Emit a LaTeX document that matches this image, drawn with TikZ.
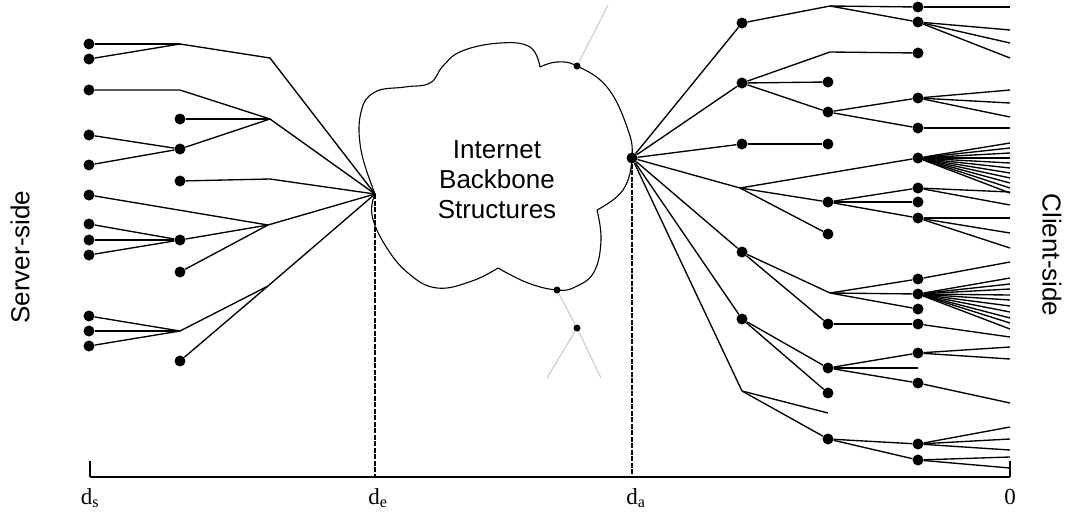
\documentclass[tikz,border=0pt]{standalone}
\usepackage{fontspec}
\setmainfont{Liberation Sans}
\newfontfamily\axisfont{Liberation Serif}
\usetikzlibrary{shapes}

\tikzstyle{dot} = [circle, fill, inner sep=0pt, minimum size=11pt]
\tikzstyle{smalldot} = [circle, fill, inner sep=0pt, minimum size=7pt]
\tikzstyle{link} = [line width=1.35pt]
\tikzstyle{greylink} = [gray!35, line width=1.3pt]
\tikzstyle{level} = [dash pattern=on 5pt off 1.5pt, line width=1.1pt]
\tikzstyle{side} = [font=\fontsize{26}{30}\selectfont]
\tikzstyle{tick} = [font=\axisfont\fontsize{23}{25}\selectfont, anchor=base]

% fan of lines from a node to the right border
\newcommand{\fanout}[2]{\foreach \y [count=\i] in {#2} {\coordinate (#1-\i) at (1010,\y); \draw[link] (#1) -- (#1-\i);}}

\begin{document}
\begin{tikzpicture}[x=1pt, y=-1pt]
\useasboundingbox (0,0) rectangle (1079,512);

% axis
\coordinate (xs) at (90,477);
\coordinate (xe) at (375,477);
\coordinate (xa) at (632,477);
\coordinate (xo) at (1010,477);
\coordinate (ts) at (90,461);
\coordinate (to) at (1010,461);
\draw[line width=1.4pt] (xs) -- (xo);
\draw[line width=1.4pt] (ts) -- (xs);
\draw[line width=1.4pt] (to) -- (xo);
\node[tick] at (90,504) {d\textsubscript{s}};
\node[tick] at (378,504) {d\textsubscript{e}};
\node[tick] at (636,504) {d\textsubscript{a}};
\node[tick] at (1010,504) {0};

% cloud
\draw[line width=1.1pt] plot[smooth, tension=0.7] coordinates {(375,194) (361,150) (361,112) (375,92) (405,87) (430,83) (443,66) (462,51) (500,43) (530,47) (540,67)};
\draw[line width=1.1pt] plot[smooth, tension=0.7] coordinates {(540,67) (557,62) (577,66) (607,87) (627,127) (632,157) (623,190) (597,210)};
\draw[line width=1.1pt] plot[smooth, tension=0.7] coordinates {(597,210) (601,240) (594,272) (575,287) (557,290) (528,283) (498,268)};
\draw[line width=1.1pt] plot[smooth, tension=0.7] coordinates {(498,268) (472,281) (437,288) (408,273) (385,245) (372,215) (375,194)};
\node[side, align=center] (net) at (497,180) {Internet\\Backbone\\Structures};

\coordinate (srv) at (20,257);
\coordinate (cli) at (1052,255);
\node[side, rotate=90] (server) at (srv) {Server-side};
\node[side, rotate=-90] (client) at (cli) {Client-side};

% other links leaving the backbone
\node[smalldot] (g1) at (577,66) {};
\node[smalldot] (g2) at (557,290) {};
\node[smalldot] (g3) at (577,328) {};
\coordinate (h1) at (608,5);
\coordinate (h2) at (547,378);
\coordinate (h3) at (601,378);
\draw[greylink] (g1) -- (h1);
\draw[greylink] (g2) -- (g3);
\draw[greylink] (g3) -- (h2);
\draw[greylink] (g3) -- (h3);

% server side
\coordinate (de) at (375,194);
\draw[level] (de) -- (xe);

\node[dot] (sa) at (89,44) {};
\node[dot] (sb) at (89,59) {};
\node[dot] (sc) at (89,90) {};
\node[dot] (sd) at (89,135) {};
\node[dot] (se) at (89,165) {};
\node[dot] (sf) at (89,195) {};
\node[dot] (sg) at (89,224) {};
\node[dot] (sh) at (89,240) {};
\node[dot] (si) at (89,255) {};
\node[dot] (sj) at (89,316) {};
\node[dot] (sk) at (89,331) {};
\node[dot] (sl) at (89,346) {};
\node[dot] (ma) at (180,119) {};
\node[dot] (mb) at (180,149) {};
\node[dot] (mc) at (180,181) {};
\node[dot] (md) at (180,240) {};
\node[dot] (me) at (180,272) {};
\node[dot] (mf) at (180,361) {};
\coordinate (ja) at (180,44);
\coordinate (jb) at (180,90);
\coordinate (jc) at (180,331);
\coordinate (ka) at (270,58);
\coordinate (kb) at (270,119);
\coordinate (kc) at (270,179);
\coordinate (kd) at (268,225);
\coordinate (ke) at (268,286);

\draw[link] (sa) -- (ja);
\draw[link] (sb) -- (ja);
\draw[link] (ja) -- (ka) -- (de);
\draw[link] (sc) -- (jb) -- (kb);
\draw[link] (ma) -- (kb);
\draw[link] (sd) -- (mb);
\draw[link] (se) -- (mb);
\draw[link] (mb) -- (kb) -- (de);
\draw[link] (mc) -- (kc) -- (de);
\draw[link] (sf) -- (kd);
\draw[link] (sg) -- (md);
\draw[link] (sh) -- (md);
\draw[link] (si) -- (md);
\draw[link] (md) -- (kd);
\draw[link] (me) -- (kd) -- (de);
\draw[link] (sj) -- (jc);
\draw[link] (sk) -- (jc);
\draw[link] (sl) -- (jc);
\draw[link] (jc) -- (ke);
\draw[link] (mf) -- (ke) -- (de);

% client side
\node[dot] (A) at (632,158) {};
\draw[level] (A) -- (xa);

\node[dot] (ra) at (742,23) {};
\node[dot] (rb) at (742,83) {};
\node[dot] (rc) at (742,144) {};
\coordinate (qa) at (740,188);
\node[dot] (rd) at (742,252) {};
\node[dot] (re) at (742,319) {};
\coordinate (qb) at (742,391);

\coordinate (pa) at (830,6);
\coordinate (pb) at (830,52);
\node[dot] (ua) at (828,82) {};
\node[dot] (ub) at (828,112) {};
\node[dot] (uc) at (828,144) {};
\node[dot] (ud) at (828,202) {};
\node[dot] (ue) at (828,234) {};
\coordinate (pc) at (830,293);
\node[dot] (uf) at (828,324) {};
\node[dot] (ug) at (828,368) {};
\node[dot] (uh) at (828,393) {};
\coordinate (pd) at (828,413);
\node[dot] (ui) at (828,439) {};

\node[dot] (va) at (918,7) {};
\node[dot] (vb) at (918,22) {};
\node[dot] (vc) at (918,53) {};
\node[dot] (vd) at (918,98) {};
\node[dot] (ve) at (918,128) {};
\node[dot] (vf) at (918,158) {};
\node[dot] (vg) at (918,188) {};
\node[dot] (vh) at (918,202) {};
\node[dot] (vi) at (918,218) {};
\node[dot] (vj) at (918,279) {};
\node[dot] (vk) at (918,294) {};
\node[dot] (vl) at (918,309) {};
\node[dot] (vm) at (918,324) {};
\node[dot] (vn) at (918,353) {};
\coordinate (pe) at (918,368);
\node[dot] (vo) at (918,383) {};
\node[dot] (vp) at (918,444) {};
\node[dot] (vq) at (918,460) {};

\foreach \n in {ra,rb,rc,qa,rd,re,qb} \draw[link] (A) -- (\n);

\draw[link] (ra) -- (pa);
\draw[link] (pa) -- (va);
\draw[link] (pa) -- (vb);
\draw[link] (rb) -- (pb) -- (vc);
\draw[link] (rb) -- (ua);
\draw[link] (rb) -- (ub);
\draw[link] (ub) -- (vd);
\draw[link] (ub) -- (ve);
\draw[link] (rc) -- (uc);
\draw[link] (qa) -- (vf);
\draw[link] (qa) -- (ud);
\draw[link] (qa) -- (ue);
\draw[link] (ud) -- (vg);
\draw[link] (ud) -- (vh);
\draw[link] (ud) -- (vi);
\draw[link] (rd) -- (pc);
\draw[link] (rd) -- (uf);
\draw[link] (pc) -- (vj);
\draw[link] (pc) -- (vk);
\draw[link] (pc) -- (vl);
\draw[link] (uf) -- (vm);
\draw[link] (re) -- (ug);
\draw[link] (re) -- (uh);
\draw[link] (ug) -- (vn);
\draw[link] (ug) -- (pe);
\draw[link] (ug) -- (vo);
\draw[link] (qb) -- (pd);
\draw[link] (qb) -- (ui);
\draw[link] (ui) -- (vp);
\draw[link] (ui) -- (vq);

\fanout{va}{7}
\fanout{vb}{30,43,58}
\fanout{vd}{90,103,117}
\fanout{ve}{128}
\fanout{vf}{143,148,153,158,163,168,173,178,183,188,193}
\fanout{vg}{192,205}
\fanout{vi}{218,233,248}
\fanout{vj}{262}
\fanout{vk}{278,284,289,295,300,306,312,318,323,329}
\fanout{vm}{337}
\fanout{vn}{347,359}
\fanout{vo}{403}
\fanout{vp}{427,439,450}
\fanout{vq}{457,468}
\end{tikzpicture}
\end{document}
